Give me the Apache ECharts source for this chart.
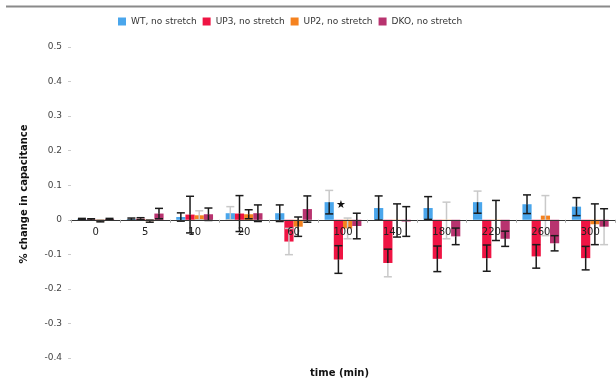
<!DOCTYPE html>
<html>
<head>
<meta charset="utf-8">
<script src="https://cdn.jsdelivr.net/npm/echarts@6/dist/echarts.min.js"></script>
<style>
  html, body { margin: 0; padding: 0; background: #fff; }
  #chart { width: 616px; height: 390px; }
</style>
</head>
<body>
<div id="chart"></div>
<script>
// Time points (min)
const categories = ['0', '5', '10', '20', '60', '100', '140', '180', '220', '260', '300'];

// Mean % change in capacitance, no stretch
const wt  = [0.002, 0.002, 0.008, 0.019, 0.019, 0.051, 0.034, 0.034, 0.051, 0.045, 0.038];
const up3 = [0.001, 0.003, 0.015, 0.018, -0.063, -0.115, -0.125, -0.113, -0.111, -0.106, -0.111];
const up2 = [-0.004, -0.004, 0.013, 0.016, -0.020, -0.025, -0.002, -0.002, -0.002, 0.012, -0.013];
const dko = [0.002, 0.018, 0.016, 0.019, 0.031, -0.018, -0.005, -0.048, -0.055, -0.068, -0.020];

// Error (±) for each mean
const wtErr  = [0.002, 0.003, 0.012, 0.019, 0.024, 0.034, 0.035, 0.033, 0.032, 0.027, 0.026];
const up3Err = [0.002, 0.003, 0.053, 0.052, 0.038, 0.040, 0.040, 0.037, 0.038, 0.034, 0.034];
const up2Err = [0.002, 0.003, 0.013, 0.013, 0.028, 0.030, 0.048, 0.053, 0.058, 0.058, 0.059];
const dkoErr = [0.002, 0.015, 0.018, 0.024, 0.038, 0.037, 0.043, 0.024, 0.022, 0.022, 0.052];

const seriesNames = ['WT, no stretch', 'UP3, no stretch', 'UP2, no stretch', 'DKO, no stretch'];
const yTicks = { min: -0.4, max: 0.5, step: 0.1 };

// Significance marker
const starCategory = '100';
const starValue = 0.041;

// ---- styling ----
const colors = ['#4aa6ec', '#ef1443', '#f5821f', '#b8336f'];
const BAR_W = 9.2;
const DARK = '#1b1b1b';
const LIGHT = '#c9c9c9';
// whiskers drawn in light grey: 'all' = whole whisker, 'outer' = half away from zero
const lightWhiskers = [
  { 3: 'all', 5: 'outer', 8: 'outer' },
  { 4: 'all', 6: 'outer' },
  { 2: 'all', 5: 'all', 7: 'all', 9: 'all' },
  { 10: 'outer' }
];

const GRID = { left: 71, right: 1, top: 47, bottom: 32 };
const CHART_H = 390;
// category axis sits on the zero line: shift it up from the grid bottom
const plotH = CHART_H - GRID.top - GRID.bottom;
const zeroOffset = -plotH * (0 - yTicks.min) / (yTicks.max - yTicks.min);

const means = [wt, up3, up2, dko];
const errs = [wtErr, up3Err, up2Err, dkoErr];

const chart = echarts.init(document.getElementById('chart'));

const barSeries = means.map((vals, k) => ({
  name: seriesNames[k],
  type: 'bar',
  data: vals,
  barWidth: BAR_W,
  barGap: '0%',
  itemStyle: { color: colors[k] },
  z: 2
}));

const errSeries = means.map((vals, k) => ({
  name: 'err' + k,
  type: 'custom',
  z: 3,
  silent: true,
  encode: { x: 0, y: 1 },
  data: vals.map((v, i) => [i, v, errs[k][i]]),
  renderItem: function (params, api) {
    const i = api.value(0), v = api.value(1), e = api.value(2);
    const off = (k - 1.5) * BAR_W;
    const mid = api.coord([i, v]);
    const x = mid[0] + off;
    const yUp = api.coord([i, v + e])[1];
    const yDn = api.coord([i, v - e])[1];
    const mode = lightWhiskers[k][i];
    const outerIsUp = v >= 0;
    const upColor = mode === 'all' || (mode === 'outer' && outerIsUp) ? LIGHT : DARK;
    const dnColor = mode === 'all' || (mode === 'outer' && !outerIsUp) ? LIGHT : DARK;
    const cap = 4;
    const seg = (x1, y1, x2, y2, c) => ({
      type: 'line', shape: { x1, y1, x2, y2 },
      style: { stroke: c, lineWidth: 1.5 }
    });
    return {
      type: 'group',
      children: [
        seg(x, mid[1], x, yUp, upColor),
        seg(x - cap, yUp, x + cap, yUp, upColor),
        seg(x, mid[1], x, yDn, dnColor),
        seg(x - cap, yDn, x + cap, yDn, dnColor)
      ]
    };
  }
}));

// star marker over the 100-min group
const starSeries = {
  name: 'star',
  type: 'custom',
  z: 4,
  silent: true,
  encode: { x: 0, y: 1 },
  data: [[categories.indexOf(starCategory), starValue]],
  renderItem: function (params, api) {
    const p = api.coord([api.value(0), api.value(1)]);
    return {
      type: 'text',
      x: p[0] - 2, y: p[1],
      style: {
        text: '★', fill: '#111', font: '11px "DejaVu Sans"',
        align: 'center', verticalAlign: 'middle'
      }
    };
  }
};

chart.setOption({
  animation: false,
  backgroundColor: '#fff',
  textStyle: { fontFamily: 'DejaVu Sans' },
  graphic: [
    {
      type: 'line', shape: { x1: 6, y1: 6.5, x2: 610, y2: 6.5 },
      style: { stroke: '#8a8a8a', lineWidth: 2 }
    },
    {
      type: 'text', left: 310, top: 368,
      style: { text: 'time (min)', font: 'bold 10px "DejaVu Sans"', fill: '#111' }
    },
    {
      type: 'text', x: 24, y: 194, rotation: Math.PI / 2,
      style: {
        text: '% change in capacitance', font: 'bold 10px "DejaVu Sans"', fill: '#111',
        align: 'center', verticalAlign: 'middle'
      }
    }
  ],
  legend: {
    data: seriesNames,
    left: 113, top: 12,
    icon: 'rect', itemWidth: 8, itemHeight: 8, itemGap: 6,
    textStyle: { fontSize: 9, color: '#333', fontFamily: 'DejaVu Sans' }
  },
  grid: Object.assign({ containLabel: false, outerBoundsMode: 'none' }, GRID),
  xAxis: {
    type: 'category',
    data: categories,
    z: 10,
    position: 'bottom',
    offset: zeroOffset,
    axisLine: { onZero: false, lineStyle: { color: '#333', width: 1 } },
    axisTick: { show: true, length: 3, lineStyle: { color: '#aaa' } },
    axisLabel: { fontSize: 10, color: '#222', margin: 8 }
  },
  yAxis: {
    type: 'value',
    min: yTicks.min, max: yTicks.max, interval: yTicks.step,
    axisLine: { show: false },
    axisTick: { show: true, length: 3, lineStyle: { color: '#ccc' } },
    splitLine: { show: false },
    axisLabel: {
      fontSize: 9, color: '#444', margin: 9,
      formatter: v => {
        const r = Math.round(v * 10) / 10;
        return r === 0 ? '0' : String(r);
      }
    }
  },
  series: barSeries.concat(errSeries, [starSeries])
});
</script>
</body>
</html>
